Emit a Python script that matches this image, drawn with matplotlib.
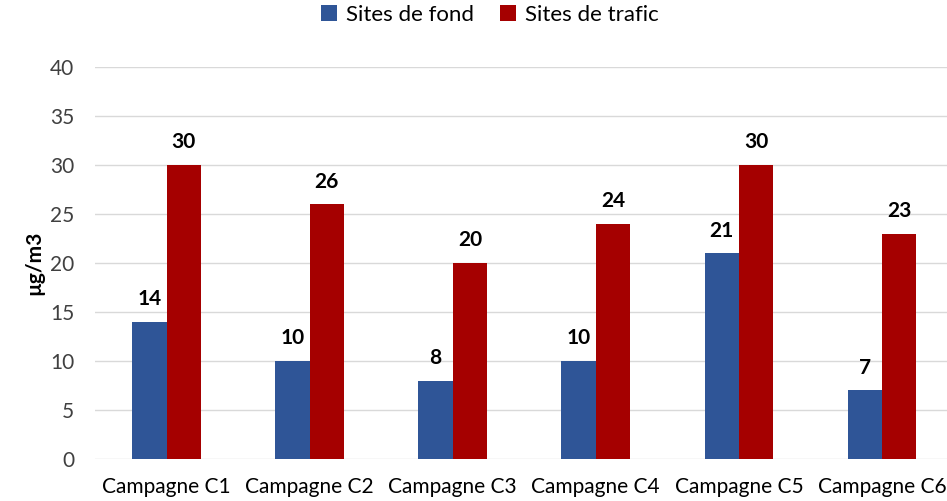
import matplotlib
matplotlib.use("Agg")
import matplotlib.pyplot as plt
import numpy as np

categories = ["Campagne C1", "Campagne C2", "Campagne C3", "Campagne C4", "Campagne C5", "Campagne C6"]
fond = [14, 10, 8, 10, 21, 7]
trafic = [30, 26, 20, 24, 30, 23]
series_names = ["Sites de fond", "Sites de trafic"]
colors = ["#2F5597", "#A50000"]

plt.rcParams['font.family'] = ['Lato', 'DejaVu Sans']

fig = plt.figure(figsize=(9.47, 5.01), dpi=100)
ax = fig.add_axes([95/947, 42/501, (953.5-95)/947, (459-67)/501])

x = np.arange(len(categories))
w = 0.24
b1 = ax.bar(x - w/2, fond, w, color=colors[0], label=series_names[0], zorder=3)
b2 = ax.bar(x + w/2, trafic, w, color=colors[1], label=series_names[1], zorder=3)

for bars, vals in ((b1, fond), (b2, trafic)):
    for r, v in zip(bars, vals):
        ax.annotate(str(v), (r.get_x() + r.get_width()/2, v), xytext=(0, 9),
                    textcoords="offset points", ha="center", va="bottom",
                    fontsize=15, fontweight="bold", color="black")

ax.set_xlim(-0.5, 5.5)
ax.set_ylim(0, 40)
ax.set_yticks(range(0, 41, 5))
ax.set_xticks(x)
ax.set_xticklabels(categories)
ax.grid(axis="y", color="#D9D9D9", linewidth=1, zorder=0)
for s in ax.spines.values():
    s.set_visible(False)
ax.tick_params(axis="both", length=0, labelsize=15, colors="#000000")
ax.tick_params(axis="y", pad=15, labelcolor="#404040")
ax.tick_params(axis="x", pad=13, labelcolor="#000000")
ax.set_ylabel("µg/m3", fontsize=15, fontweight="bold", labelpad=4)

fig.legend(loc="upper center", bbox_to_anchor=(490/947, 1.03), ncol=2, frameon=False,
           fontsize=16, handlelength=0.7, handleheight=0.7, columnspacing=1.2, handletextpad=0.4)

fig.savefig("out.png", dpi=100)
